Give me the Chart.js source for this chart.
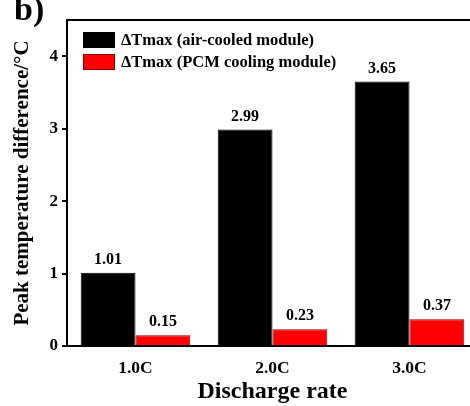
<!DOCTYPE html>
<html>
<head>
<meta charset="utf-8">
<script src="https://cdn.jsdelivr.net/npm/chart.js@4/dist/chart.umd.min.js"></script>
<style>
html,body{margin:0;padding:0;background:#fff;overflow:hidden;}
#wrap{width:480px;height:406px;position:relative;}
</style>
</head>
<body>
<div id="wrap"><canvas id="c" width="480" height="406"></canvas></div>
<script>
const categories = ['1.0C', '2.0C', '3.0C'];
const airCooled = [1.01, 2.99, 3.65];
const pcmCooling = [0.15, 0.23, 0.37];
const seriesLabels = ['\u0394Tmax (air-cooled module)', '\u0394Tmax (PCM cooling module)'];
const yTicks = [0, 1, 2, 3, 4];

const serif = "'Liberation Serif', 'Times New Roman', serif";

const valueLabels = {
  id: 'valueLabels',
  afterDatasetsDraw(chart) {
    const ctx = chart.ctx;
    ctx.save();
    ctx.font = 'bold 16px ' + serif;
    ctx.fillStyle = '#000';
    ctx.textAlign = 'center';
    ctx.textBaseline = 'bottom';
    chart.data.datasets.forEach((ds, di) => {
      const meta = chart.getDatasetMeta(di);
      meta.data.forEach((bar, i) => {
        ctx.fillText(ds.data[i].toFixed(2), bar.x, bar.y - 5);
      });
    });
    ctx.restore();
  }
};

const frameAndLegend = {
  id: 'frameAndLegend',
  afterDraw(chart) {
    const ctx = chart.ctx;
    const xs = chart.scales.x, ys = chart.scales.y;
    const top = ys.getPixelForValue(ys.max);
    const bottom = ys.getPixelForValue(ys.min);
    const left = xs.left, right = xs.right;
    ctx.save();
    ctx.strokeStyle = '#000';
    ctx.lineWidth = 2;
    ctx.beginPath();
    ctx.moveTo(left - 1, top);
    ctx.lineTo(right, top);
    ctx.lineTo(right, bottom);
    ctx.stroke();

    // legend
    ctx.font = 'bold 16.5px ' + serif;
    ctx.textAlign = 'left';
    ctx.textBaseline = 'middle';
    chart.data.datasets.forEach((ds, i) => {
      const bx = left + 16, by = top + 12 + i * 22, bw = 32, bh = 16;
      ctx.fillStyle = ds.backgroundColor;
      ctx.fillRect(bx, by, bw, bh);
      ctx.lineWidth = 1;
      ctx.strokeStyle = ds.borderColor;
      ctx.strokeRect(bx + 0.5, by + 0.5, bw - 1, bh - 1);
      ctx.fillStyle = '#000';
      ctx.fillText(ds.label, bx + bw + 6, by + bh / 2 + 1);
    });

    ctx.font = 'bold 34px ' + serif;
    ctx.fillStyle = '#000';
    ctx.textBaseline = 'alphabetic';
    ctx.fillText('b)', 14, 20);
    ctx.restore();
  }
};

new Chart(document.getElementById('c'), {
  type: 'bar',
  data: {
    labels: categories,
    datasets: [
      { label: seriesLabels[0], data: airCooled, backgroundColor: '#000000', borderColor: '#000000', borderWidth: 1 },
      { label: seriesLabels[1], data: pcmCooling, backgroundColor: '#ff0000', borderColor: '#8a0000', borderWidth: 1 }
    ]
  },
  options: {
    responsive: false,
    animation: false,
    devicePixelRatio: 1,
    layout: { padding: { left: 0, top: 20, right: 2, bottom: 0 } },
    categoryPercentage: 0.8,
    barPercentage: 1.0,
    plugins: {
      legend: { display: false },
      tooltip: { enabled: false }
    },
    scales: {
      x: {
        grid: { display: false },
        border: { display: true, color: '#000', width: 2 },
        ticks: { color: '#000', padding: 4, font: { family: serif, size: 17.5, weight: 'bold' } },
        title: { display: true, text: 'Discharge rate', color: '#000', padding: { top: 6, bottom: 0 }, font: { family: serif, size: 24, weight: 'bold' } },
        afterFit(s) { s.height = 60; }
      },
      y: {
        min: 0,
        max: 4.5,
        afterBuildTicks(s) { s.ticks = yTicks.map(v => ({ value: v })); },
        grid: { drawOnChartArea: false, drawTicks: true, tickLength: 5, color: '#000', lineWidth: 2 },
        border: { display: true, color: '#000', width: 2 },
        ticks: { color: '#000', padding: 4, font: { family: serif, size: 17, weight: 'bold' } },
        title: { display: true, text: 'Peak temperature difference/\u00B0C', color: '#000', padding: { top: 10, bottom: 4 }, font: { family: serif, size: 21, weight: 'bold' } },
        afterFit(s) { s.width = 67; }
      }
    }
  },
  plugins: [valueLabels, frameAndLegend]
});
</script>
</body>
</html>
